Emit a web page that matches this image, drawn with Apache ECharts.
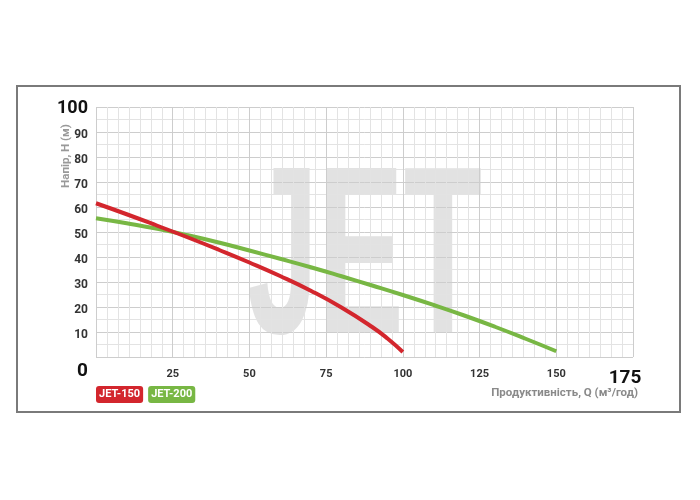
<!DOCTYPE html>
<html>
<head>
<meta charset="utf-8">
<script src="https://cdn.jsdelivr.net/npm/echarts@6/dist/echarts.min.js"></script>
<style>html,body{margin:0;padding:0;background:#fff}#c{width:700px;height:500px}</style>
</head>
<body>
<div id="c"></div>
<script>
var seriesNames = ['JET-150', 'JET-200'];
var seriesColors = ['#d3262d', '#78b744'];
// [Q (м³/год), H (м)]
var jet150 = [[0,61.5],[10,57.1],[20,52.5],[30,47.8],[40,42.9],[50,37.8],[60,32.4],[70,26.5],[80,19.8],[90,12],[95,7.4],[100,2]];
var jet200 = [[0,55.5],[10,53.5],[20,51.3],[30,48.7],[40,45.8],[50,42.6],[60,39.3],[70,35.9],[80,32.3],[90,28.6],[100,24.8],[110,20.8],[120,16.6],[130,12.1],[140,7.3],[150,2.3]];
var xMin = 0, xMax = 175, xStep = 25;
var yMin = 0, yMax = 100, yStep = 10;
var yAxisTitle = 'Напір, Н (м)';
var xAxisTitle = 'Продуктивність, Q (м³/год)';
var watermark = 'JET';

var FONT = 'Roboto, "Liberation Sans", sans-serif';
var chart = echarts.init(document.getElementById('c'), null, {renderer: 'canvas'});
chart.setOption({
  animation: false,
  backgroundColor: '#fff',
  grid: {left: 96, right: 67, top: 107, bottom: 143, outerBoundsMode: 'none', containLabel: false},
  graphic: [
    {type: 'rect', z: -10, shape: {x: 17, y: 86, width: 663, height: 326},
     style: {fill: 'none', stroke: '#7a7a7a', lineWidth: 2}},
    {type: 'text', z: -5, x: 247, y: 147, scaleX: 0.534,
     style: {text: watermark, fill: '#e2e2e2', font: 'bold 240px "Liberation Sans", Arial, sans-serif',
             textAlign: 'left', textVerticalAlign: 'top'}}
  ],
  legend: {
    left: 86, top: 381, icon: 'none', itemWidth: 0, itemHeight: 10, itemGap: 0,
    selectedMode: false,
    textStyle: {color: '#fff', fontFamily: FONT, fontWeight: 'bold', fontSize: 11,
                padding: [3, 3, 3, 3], borderRadius: 3},
    data: seriesNames.map(function (n, i) {
      return {name: n, textStyle: {backgroundColor: seriesColors[i]}};
    })
  },
  xAxis: {
    type: 'value', min: xMin, max: xMax, interval: xStep,
    axisLine: {show: false}, axisTick: {show: false},
    minorTick: {show: false, splitNumber: 7},
    minorSplitLine: {show: true, lineStyle: {color: '#e3e3e3', width: 1}},
    splitLine: {show: true, lineStyle: {color: '#cdcdcd', width: 1}},
    name: xAxisTitle, nameLocation: 'end', nameGap: 5, nameMoveOverlap: false,
    nameTextStyle: {color: '#8a8a8a', fontFamily: FONT, fontWeight: 'bold', fontSize: 11.5,
                    align: 'right', verticalAlign: 'top', padding: [30, 0, 0, 0]},
    axisLabel: {
      margin: 12, showMinLabel: false,
      formatter: function (v) { return v === xMax ? '{big|' + v + '}' : '{n|' + v + '}'; },
      rich: {
        n: {fontFamily: FONT, fontWeight: 'bold', fontSize: 11, color: '#333'},
        big: {fontFamily: FONT, fontWeight: 'bold', fontSize: 19, color: '#111', padding: [0, 16, 0, 0]}
      }
    }
  },
  yAxis: {
    type: 'value', min: yMin, max: yMax, interval: yStep,
    axisLine: {show: false}, axisTick: {show: false},
    minorTick: {show: false, splitNumber: 2},
    minorSplitLine: {show: true, lineStyle: {color: '#e3e3e3', width: 1}},
    splitLine: {show: true, lineStyle: {color: '#cdcdcd', width: 1}},
    name: yAxisTitle, nameLocation: 'middle', nameRotate: 90, nameGap: 24, nameMoveOverlap: false,
    nameTextStyle: {color: '#999', fontFamily: FONT, fontWeight: 'bold', fontSize: 11.5,
                    padding: [0, 0, 0, 152]},
    axisLabel: {
      margin: 8,
      formatter: function (v) {
        if (v === yMax) return '{big|' + v + '}';
        if (v === yMin) return '{zero|' + v + '}';
        return '{n|' + v + '}';
      },
      rich: {
        n: {fontFamily: FONT, fontWeight: 'bold', fontSize: 12, color: '#333', padding: [5, 0, 0, 0]},
        big: {fontFamily: FONT, fontWeight: 'bold', fontSize: 18, color: '#111', padding: [3, 0, 0, 0]},
        zero: {fontFamily: FONT, fontWeight: 'bold', fontSize: 19, color: '#111', padding: [28, 0, 0, 0]}
      }
    }
  },
  series: [
    {name: seriesNames[0], type: 'line', data: jet150, smooth: true, showSymbol: false,
     lineStyle: {color: seriesColors[0], width: 4}, itemStyle: {color: seriesColors[0]}, z: 3},
    {name: seriesNames[1], type: 'line', data: jet200, smooth: true, showSymbol: false,
     lineStyle: {color: seriesColors[1], width: 4}, itemStyle: {color: seriesColors[1]}, z: 2}
  ]
});
</script>
</body>
</html>
